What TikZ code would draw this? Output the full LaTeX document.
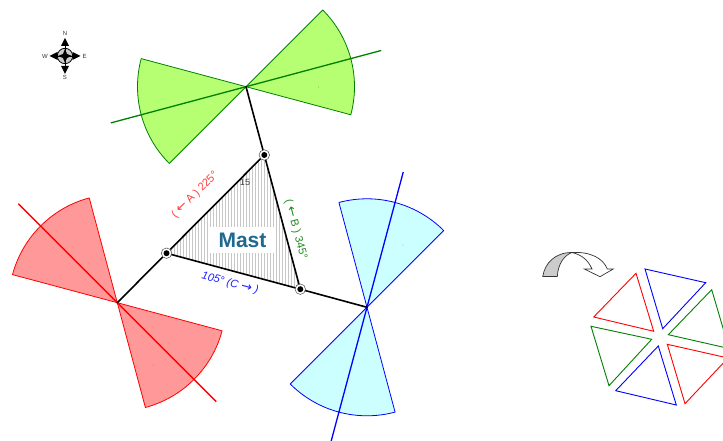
\documentclass[tikz,border=0pt]{standalone}
\usepackage{fontspec}
\setmainfont{Liberation Sans}
\newfontfamily\arrowfont{DejaVu Sans}
\usetikzlibrary{patterns,calc}
\definecolor{mastblue}{RGB}{31,105,145}
\definecolor{lgreen}{RGB}{0,128,0}
\definecolor{tgreen}{RGB}{34,139,34}
\definecolor{tred}{RGB}{255,60,60}
\definecolor{tblue}{RGB}{30,30,255}
\definecolor{fgreen}{RGB}{182,255,115}
\definecolor{fred}{RGB}{255,153,153}
\definecolor{fblue}{RGB}{204,255,255}
\newcommand{\arL}{{\fontsize{13}{13}\arrowfont ←}}
\newcommand{\arR}{{\fontsize{13}{13}\arrowfont\upshape →}}
\tikzset{
  sectorgreen/.style={draw=lgreen,fill=fgreen,line width=0.8pt,line join=round},
  sectorred/.style={draw=red,fill=fred,line width=0.8pt,line join=round},
  sectorblue/.style={draw=blue,fill=fblue,line width=0.8pt,line join=round},
  axisline/.style={line width=1.3pt},
  mastline/.style={black,line width=1.6pt,line cap=round},
  pivotring/.style={circle,draw=black!70,fill=white,line width=0.5pt,inner sep=0pt,minimum size=10.5pt},
  pivotdot/.style={circle,fill=black,inner sep=0pt,minimum size=6pt},
  tri/.style={line width=0.9pt,line join=miter},
  seclabel/.style={font=\fontsize{11}{13}\selectfont,inner sep=0pt},
  compasslabel/.style={font=\fontsize{6}{7}\selectfont,text=black!80,inner sep=0pt},
  speck/.style={circle,fill=black!60,inner sep=0pt,minimum size=0.9pt},
}
\begin{document}
\begin{tikzpicture}[x=1pt,y=1pt]
\useasboundingbox (0,0) rectangle (723,441);
% anchor points
\coordinate (G) at (246,354.3);
\coordinate (Rd) at (117.3,138.3);
\coordinate (Bl) at (367,133.7);
\coordinate (T) at (264.3,286);
\coordinate (L) at (166.5,187.8);
\coordinate (Q) at (300.3,151.8);
% sectors
\draw[sectorgreen] (G) -- ++(-15:108.5) arc (-15:45:108.5) -- cycle;
\draw[sectorgreen] (G) -- ++(165:108.5) arc (165:225:108.5) -- cycle;
\draw[sectorred] (Rd) -- ++(105:108.5) arc (105:165:108.5) -- cycle;
\draw[sectorred] (Rd) -- ++(-75:108.5) arc (-75:-15:108.5) -- cycle;
\draw[sectorblue] (Bl) -- ++(45:108.5) arc (45:105:108.5) -- cycle;
\draw[sectorblue] (Bl) -- ++(225:108.5) arc (225:285:108.5) -- cycle;
% axes
\coordinate (Ga) at ($(G)+(15:140)$);
\coordinate (Gb) at ($(G)+(195:140)$);
\coordinate (Ra) at ($(Rd)+(135:140)$);
\coordinate (Rb) at ($(Rd)+(-45:140)$);
\coordinate (Ba) at ($(Bl)+(75:140)$);
\coordinate (Bb) at ($(Bl)+(255:140)$);
\draw[axisline,lgreen] (Ga) -- (Gb);
\draw[axisline,red] (Ra) -- (Rb);
\draw[axisline,blue] (Ba) -- (Bb);
% specks
\node[speck] (s1) at (318.5,354) {};
\node[speck] (s2) at (153.3,76) {};
\node[speck] (s3) at (403,196) {};
% mast
\fill[white] (T) -- (L) -- (Q) -- cycle;
\fill[pattern=vertical lines,pattern color=black!22] (T) -- (L) -- (Q) -- cycle;
\draw[mastline] (G) -- (T);
\draw[mastline] (T) -- (Q);
\draw[mastline] (Q) -- (Bl);
\draw[mastline] (T) -- (L);
\draw[mastline] (L) -- (Rd);
\draw[mastline] (L) -- (Q);
\foreach \p/\n in {T/pa,L/pb,Q/pc}{
  \node[pivotring] (\n r) at (\p) {};
  \node[pivotdot] (\n d) at (\p) {};
}
\node[fill=white,minimum width=65pt,minimum height=26pt,inner sep=0pt,text=mastblue,font=\fontsize{21}{22}\selectfont\bfseries] (mast) at (242.5,200.5) {Mast};
\node[seclabel,text=black!75,font=\fontsize{9}{10}\selectfont] (n15) at (245,259) {15};
\node[seclabel,text=tred,rotate=45] (la) at (195,246) {( \arL{} A ) 225°};
\node[seclabel,text=tgreen,rotate=-75] (lb) at (295.7,211.5) {( \arL{} B ) 345°};
\node[seclabel,text=tblue,rotate=-15,font=\fontsize{11}{13}\selectfont\itshape] (lc) at (230,157.5) {105° (C \arR{} )};
% compass
\coordinate (C) at (65,385);
\draw[black,fill=black!20,line width=0.8pt] (C) circle (7.7);
\fill[black] (65,403) -- (69,395) -- (61,395) -- cycle;
\fill[black] (65,367) -- (69,375) -- (61,375) -- cycle;
\fill[black] (49.5,385) -- (57.5,389) -- (57.5,381) -- cycle;
\fill[black] (80.5,385) -- (72.5,389) -- (72.5,381) -- cycle;
\draw[black,line width=0.9pt] (65,396) -- (65,374) (54,385) -- (76,385);
\fill[black] (65,392) -- (67,387) -- (72,385) -- (67,383) -- (65,378) -- (63,383) -- (58,385) -- (63,387) -- cycle;
\node[compasslabel] (cn) at (65,407.5) {N};
\node[compasslabel] (cs) at (65,364) {S};
\node[compasslabel] (cw) at (45,385) {W};
\node[compasslabel] (ce) at (84.5,385) {E};
% curved arrow
\draw[black!80,fill=white,line width=0.7pt,line join=miter]
  (572,188.5) .. controls (590,189.5) and (603,183) .. (607.3,172) -- (613.3,172) -- (600,164.3) -- (584.3,172) -- (592,172) .. controls (588,181) and (582,186) .. (572,188.5) -- cycle;
\draw[black!80,fill=black!20,line width=0.7pt]
  (542.7,164.5) .. controls (545,178) and (555,188.5) .. (572,188.5) .. controls (565,186) and (558,178) .. (557.3,164.5) -- cycle;
% small triangles
\begin{scope}
\clip (0,0) rectangle (723,441);
\draw[tri,red] (636,167.7) -- (593.7,124) -- (653.7,109.7) -- cycle;
\draw[tri,blue] (645,172) -- (705.7,158.3) -- (662.7,112.3) -- cycle;
\draw[tri,lgreen] (711.7,151.3) -- (668.3,106.3) -- (729,92.5) -- cycle;
\draw[tri,red] (667.3,96.7) -- (728,83) -- (685,37.3) -- cycle;
\draw[tri,blue] (658.3,95) -- (615.7,50.3) -- (676.3,36) -- cycle;
\draw[tri,lgreen] (591,114.7) -- (651.7,101.7) -- (609,55.3) -- cycle;
\end{scope}
\end{tikzpicture}
\end{document}
